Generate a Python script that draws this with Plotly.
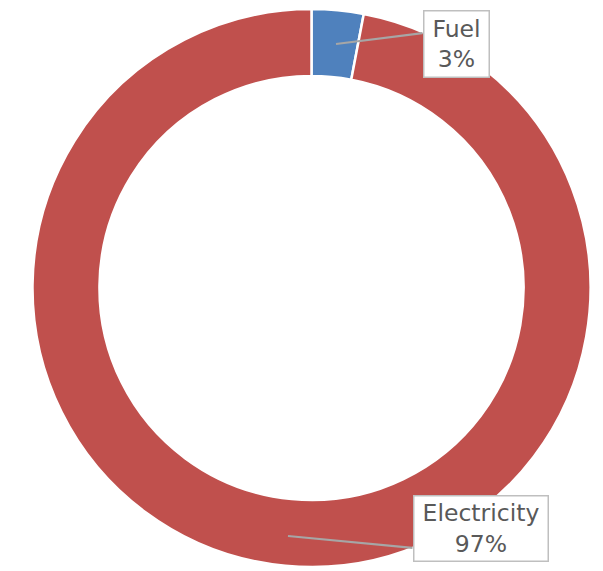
import plotly.graph_objects as go

labels = ["Fuel", "Electricity"]
values = [3, 97]
pct_text = ["3%", "97%"]
colors = ["#4F81BD", "#C0504D"]

W, H = 603, 571

fig = go.Figure(go.Pie(
    labels=labels,
    values=values,
    hole=0.76,
    sort=False,
    direction="clockwise",
    rotation=0,
    marker=dict(colors=colors, line=dict(color="white", width=2.5)),
    textinfo="none",
    showlegend=False,
    domain=dict(x=[32 / W, 591 / W], y=[1 - 567 / H, 1 - 9 / H]),
))

# callout labels: box centre (px), box size, leader point (px), leader end on box (px)
callouts = [
    (0, (456, 43.5), (62, 63), (336, 44), (424, 33)),
    (1, (480.5, 528), (131, 62), (288, 536), (414, 548)),
]
for i, (cx, cy), (bw, bh), (px, py), (ex, ey) in callouts:
    # leader line
    fig.add_annotation(
        x=px / W, y=1 - py / H, xref="paper", yref="paper",
        text="", showarrow=True, arrowhead=0, arrowwidth=2.2,
        arrowcolor="#A6A6A6", ax=ex - px, ay=ey - py,
    )
    # label box
    fig.add_annotation(
        x=cx / W, y=1 - cy / H, xref="paper", yref="paper",
        xanchor="center", yanchor="middle",
        text=f"{labels[i]}<br>{pct_text[i]}",
        showarrow=False,
        bgcolor="white", bordercolor="#BFBFBF", borderwidth=1.5, borderpad=1,
        width=bw, height=bh,
        font=dict(family="DejaVu Sans", size=23.5, color="#595959"),
        align="center",
    )

fig.update_layout(
    width=W, height=H,
    margin=dict(l=0, r=0, t=0, b=0),
    paper_bgcolor="white", plot_bgcolor="white",
)

fig.write_html("out.html")
